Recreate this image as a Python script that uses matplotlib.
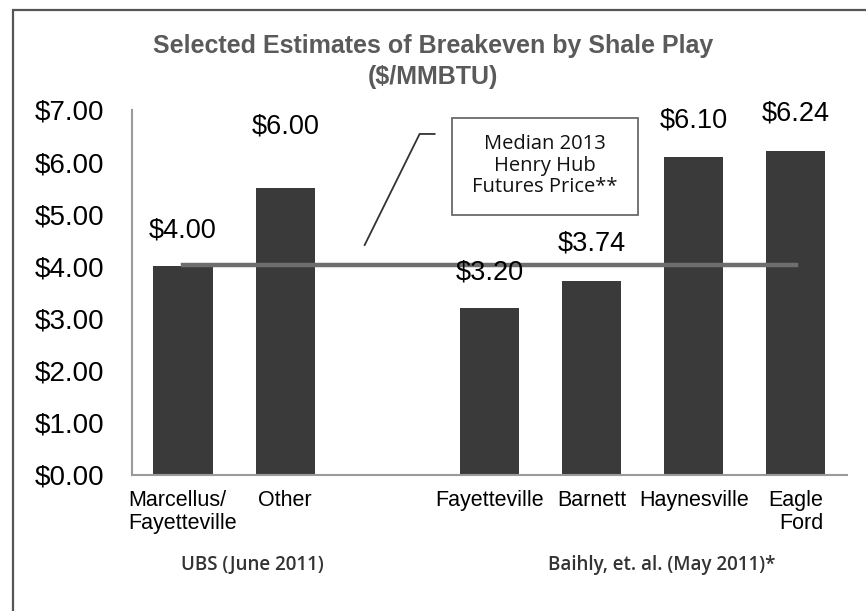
import matplotlib
matplotlib.use("Agg")
from matplotlib import pyplot as plt
from matplotlib.patches import Rectangle
import numpy as np

# data
categories = ["Marcellus/\nFayetteville", "Other", "", "Fayetteville", "Barnett", "Haynesville", "Eagle\nFord"]
breakeven = [4.00, 5.50, np.nan, 3.20, 3.72, 6.10, 6.22]
value_labels = ["$4.00", "$6.00", "", "$3.20", "$3.74", "$6.10", "$6.24"]
label_heights = [4.00, 6.00, np.nan, 3.20, 3.74, 6.10, 6.24]
label_align = ["left", "center", "center", "center", "center", "center", "right"]
yticks = [0, 1, 2, 3, 4, 5, 6, 7]
henry_hub = 4.03
groups = ["UBS (June 2011)", "Baihly, et. al. (May 2011)*"]
group_centers = [0.68, 4.69]

fig = plt.figure(figsize=(8.66, 6.11), dpi=100)
ax = fig.add_axes([0.1524, 0.2226, 0.978 - 0.1524, 0.82 - 0.2226])

x = np.arange(len(categories))
ax.bar(x, breakeven, width=0.58, color="#3a3a3a", zorder=2)

# median futures price line across the plays
ax.plot([x[0], x[-1]], [henry_hub, henry_hub], color="#6e6e6e", lw=3.2, zorder=3)

for xi, lab, h in zip(x, value_labels, label_heights):
    if lab:
        ax.annotate(lab, (xi, h), xytext=(0, 26), textcoords="offset points",
                    ha="center", va="center", fontsize=19.5, family="Liberation Sans")

ax.set_xlim(-0.5, 6.5)
ax.set_ylim(0, 7)
ax.set_yticks(yticks)
ax.set_yticklabels(["$%.2f" % v for v in yticks], fontsize=20, family="Liberation Sans")
ax.set_xticks(x)
ax.set_xticklabels(categories, fontsize=15.5, family="Liberation Sans")
for t, al in zip(ax.get_xticklabels(), label_align):
    t.set_multialignment(al)
    t.set_linespacing(1.1)
ax.tick_params(axis="both", length=0)
ax.tick_params(axis="y", pad=20)
ax.tick_params(axis="x", pad=11)

for s in ["top", "right"]:
    ax.spines[s].set_visible(False)
for s in ["left", "bottom"]:
    ax.spines[s].set_color("#9a9a9a")
    ax.spines[s].set_linewidth(1.5)

# callout box
ax.add_patch(Rectangle((2.63, 4.99), 1.82, 1.86, fill=False, edgecolor="#6a6a6a",
                       lw=1.3, clip_on=False, zorder=4))
ax.text(3.54, 5.93, "Median 2013\nHenry Hub\nFutures Price**", ha="center", va="center",
        fontsize=14.5, family="Open Sans", color="#111111", linespacing=1.1)
ax.plot([2.463, 2.316, 1.778], [6.54, 6.54, 4.41], color="#333333", lw=1.3,
        clip_on=False, zorder=4)

for g, gc in zip(groups, group_centers):
    ax.text(gc, -1.73, g, ha="center", va="center", fontsize=13.5,
            family="Open Sans", fontweight="semibold", color="#333333")

fig.text(0.5, 1 - 46 / 611, "Selected Estimates of Breakeven by Shale Play", ha="center",
         va="center", fontsize=18, fontweight="bold", color="#5a5a5a", family="Liberation Sans")
fig.text(0.5, 1 - 77 / 611, "($/MMBTU)", ha="center", va="center", fontsize=18,
         fontweight="bold", color="#5a5a5a", family="Liberation Sans")

# outer frame
fig.add_artist(Rectangle((13 / 866, -0.1), 1.2, 1 - 10 / 611 + 0.1, fill=False,
                         edgecolor="#555555", lw=1.6, transform=fig.transFigure))

fig.savefig("out.png", dpi=100)
